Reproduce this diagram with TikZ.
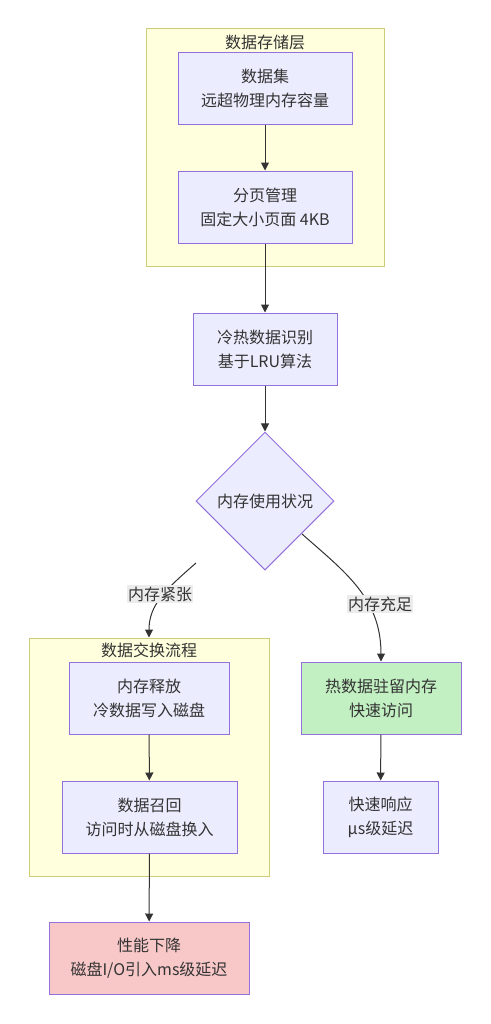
\documentclass[tikz,border=0pt]{standalone}
\usepackage{fontspec}
\setmainfont{Noto Sans CJK SC}
\usetikzlibrary{shapes.geometric, arrows.meta, positioning}

\definecolor{nodefill}{RGB}{236, 236, 255}
\definecolor{nodeline}{RGB}{147, 112, 219}
\definecolor{clusterfill}{RGB}{255, 255, 222}
\definecolor{clusterline}{RGB}{205, 205, 120}
\definecolor{edgegray}{RGB}{51, 51, 51}
\definecolor{textgray}{RGB}{51, 51, 51}
\definecolor{hotgreen}{RGB}{194, 240, 194}
\definecolor{slowred}{RGB}{248, 200, 200}
\definecolor{labelbg}{RGB}{236, 236, 236}

\tikzset{
  box/.style={draw=nodeline, fill=nodefill, line width=0.75pt, align=center,
    inner sep=0pt, minimum height=54pt, text=textgray, font=\fontsize{12}{18}\selectfont},
  cluster/.style={draw=clusterline, fill=clusterfill, line width=0.75pt, inner sep=0pt},
  title/.style={text=textgray, font=\fontsize{12}{14}\selectfont},
  edgelabel/.style={fill=labelbg, inner sep=1pt, text=textgray, font=\fontsize{12}{14}\selectfont},
  link/.style={draw=edgegray, line width=0.75pt, -{Triangle[length=6pt, width=6pt]}}
}

\begin{document}
\begin{tikzpicture}[x=0.75pt, y=-0.75pt]
  \useasboundingbox (0, 0) rectangle (490, 1024);

  % Clusters
  \node[cluster, minimum width=178.5pt, minimum height=177.75pt] (store) at (265, 147.5) {};
  \node[title] (storetitle) at (265, 42) {数据存储层};
  \node[cluster, minimum width=180pt, minimum height=178.5pt] (swap) at (149, 757) {};
  \node[title] (swaptitle) at (149, 650) {数据交换流程};

  % Main chain
  \node[box, minimum width=130.5pt] (dataset) at (265, 88.5) {数据集\\远超物理内存容量};
  \node[box, minimum width=130.5pt] (paging) at (265, 207) {分页管理\\固定大小页面 4KB};
  \node[box, minimum width=108pt] (coldhot) at (265, 349) {冷热数据识别\\基于LRU算法};
  \node[diamond, draw=nodeline, fill=nodefill, line width=0.75pt, inner sep=0pt,
    minimum width=103.5pt, minimum height=103.5pt, text=textgray,
    font=\fontsize{12}{14}\selectfont] (memstate) at (265, 501) {内存使用状况};

  % Left branch
  \node[box, minimum width=120pt] (release) at (149, 698) {内存释放\\冷数据写入磁盘};
  \node[box, minimum width=131.25pt] (recall) at (149.5, 817) {数据召回\\访问时从磁盘换入};
  \node[box, fill=slowred, minimum width=150pt] (slow) at (149, 958) {性能下降\\磁盘I/O引入ms级延迟};

  % Right branch
  \node[box, fill=hotgreen, minimum width=120pt] (hotres) at (381, 698) {热数据驻留内存\\快速访问};
  \node[box, minimum width=86.25pt] (fastresp) at (380.5, 817) {快速响应\\μs级延迟};

  % Connectors
  \draw[link] (dataset) -- (paging);
  \draw[link] (paging) -- (coldhot);
  \draw[link] (coldhot) -- (memstate);
  \coordinate (tightstart) at (196, 563);
  \coordinate (plentystart) at (302, 534);
  \draw[link] (tightstart) .. controls (165, 590) and (149, 605) .. (swap.north);
  \draw[link] (plentystart) .. controls (345, 572) and (381, 598) .. (hotres.north);
  \node[edgelabel] (tightlabel) at (160, 594) {内存紧张};
  \node[edgelabel] (plentylabel) at (380, 604) {内存充足};
  \draw[link] (release) -- (recall);
  \draw[link] (recall) -- (slow);
  \draw[link] (hotres) -- (fastresp);
\end{tikzpicture}
\end{document}
